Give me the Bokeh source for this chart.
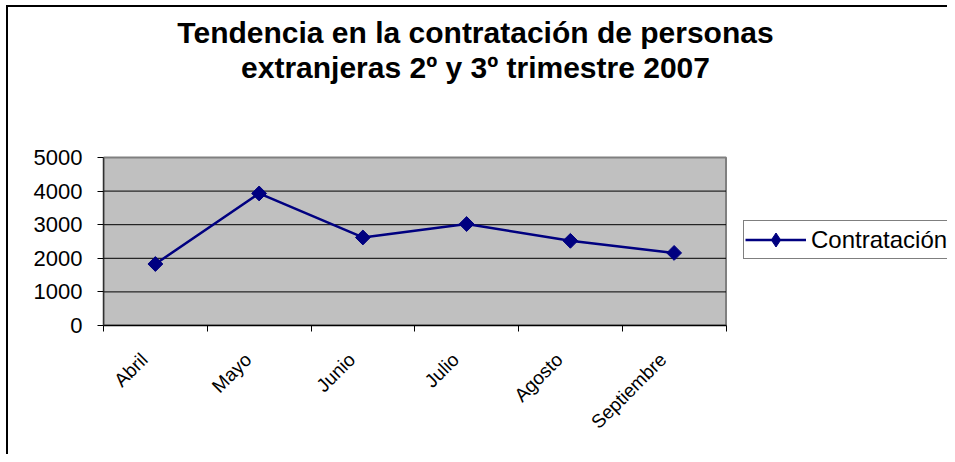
from math import pi
from bokeh.plotting import figure
from bokeh.models import Range1d, FixedTicker, Legend, LegendItem, Label, ColumnDataSource
from bokeh.embed import file_html
from bokeh.resources import INLINE

# ---- data ----
months = ["Abril", "Mayo", "Junio", "Julio", "Agosto", "Septiembre"]
contratacion = [1830, 3930, 2620, 3020, 2520, 2160]
y_ticks = [0, 1000, 2000, 3000, 4000, 5000]
title_lines = ["Tendencia en la contratación de personas",
               "extranjeras 2º y 3º trimestre 2007"]
series_name = "Contratación"

FONT = "Liberation Sans"
NAVY = "#000080"

# ---- layout constants (pixels) ----
W, H = 947, 454
PLOT_LEFT, PLOT_W = 103, 622.5      # grey plot area
PLOT_BOTTOM, PLOT_H = 325, 168

n = len(months)
y_max = max(y_ticks)
x_pos = [i + 0.5 for i in range(n)]
label_pos = [x - 0.106 for x in x_pos]   # rotated labels end slightly left of centre
src = ColumnDataSource(dict(x=x_pos, y=contratacion, month=months))
inner = [t for t in y_ticks if 0 < t < y_max]
grid_src = ColumnDataSource(dict(x0=[0] * len(inner), x1=[n] * len(inner), y=inner))

# the frame covers the whole chart area; the grey plot area is a sub-region of it
x_end = n * (W - PLOT_LEFT) / PLOT_W
y_end = y_max * PLOT_BOTTOM / PLOT_H

p = figure(width=W, height=H, output_backend="svg", toolbar_location=None,
           x_range=Range1d(0, x_end), y_range=Range1d(0, y_end),
           min_border_left=PLOT_LEFT, min_border_right=0,
           min_border_top=0, min_border_bottom=H - PLOT_BOTTOM)
# outer chart border (left + top only, the rest lies beyond the window)
p.styles = {"box-shadow": "inset 6px 5px 0 0 #ffffff, inset 8px 7px 0 0 #000000"}

p.background_fill_alpha = 0
p.border_fill_alpha = 0
p.outline_line_color = None
p.xgrid.visible = False
p.ygrid.visible = False

# grey plot area and its grid
p.quad(left=0, right=n, bottom=0, top=y_max, fill_color="#C0C0C0",
       line_color="#808080", line_width=2)
p.segment(x0="x0", x1="x1", y0="y", y1="y", source=grid_src,
          line_color="black", line_width=1)

xa = p.xaxis[0]
xa.bounds = (0, n)
xa.ticker = FixedTicker(ticks=label_pos, minor_ticks=list(range(n + 1)))
xa.major_label_overrides = {x: m for x, m in zip(label_pos, months)}
xa.major_label_orientation = pi / 4
xa.major_tick_out = 0
xa.major_tick_in = 0
xa.minor_tick_out = 6
xa.minor_tick_in = 0
xa.minor_tick_line_color = "black"
xa.axis_line_color = "black"
xa.axis_line_width = 1.5
xa.major_label_text_font = FONT
xa.major_label_text_font_size = "19px"
xa.major_label_text_color = "black"
xa.major_label_standoff = 25

ya = p.yaxis[0]
ya.bounds = (0, y_max)
ya.ticker = FixedTicker(ticks=y_ticks, minor_ticks=[])
ya.major_tick_out = 6
ya.major_tick_in = 0
ya.major_tick_line_color = "black"
ya.axis_line_color = "#303030"
ya.axis_line_width = 1.5
ya.major_label_text_font = FONT
ya.major_label_text_font_size = "22px"
ya.major_label_text_color = "black"
ya.major_label_standoff = 15

r_line = p.line("x", "y", source=src, line_color=NAVY, line_width=2.5)
r_pts = p.scatter("x", "y", source=src, marker="square", angle=pi / 4, size=10.5,
                  fill_color=NAVY, line_color=NAVY)
# legend-only diamond key (a single undrawable NaN point)
nan = float("nan")
r_key = p.scatter(x=[nan], y=[nan], marker="diamond", fill_color=NAVY, line_color=NAVY)

legend = Legend(items=[LegendItem(label=series_name, renderers=[r_line, r_key])],
                location=(640, 66))
legend.border_line_color = "black"
legend.border_line_width = 1
legend.background_fill_color = "white"
legend.background_fill_alpha = 1
legend.label_text_font = FONT
legend.label_text_font_size = "24px"
legend.label_text_color = "black"
legend.glyph_width = 61
legend.glyph_height = 35
legend.label_standoff = 5
legend.padding = 1
legend.margin = 0
p.add_layout(legend)

TITLE_CX = 475
for txt, base in zip(title_lines, [31.5, 67]):
    p.add_layout(Label(x=TITLE_CX - PLOT_LEFT, y=PLOT_BOTTOM - base,
                       x_units="screen", y_units="screen", text=txt,
                       text_align="center", text_baseline="alphabetic",
                       text_font=FONT, text_font_style="bold",
                       text_font_size="30px", text_color="black"))

open("out.html", "w").write(file_html(p, INLINE))
